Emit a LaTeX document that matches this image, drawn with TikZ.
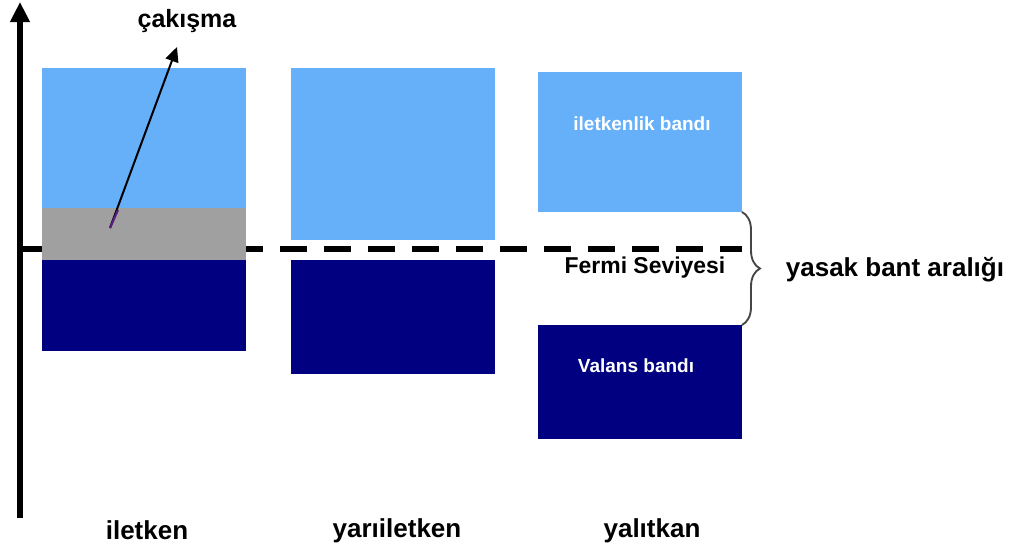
\documentclass[tikz,border=0pt]{standalone}
\usepackage{fontspec}
\setmainfont{Liberation Sans}
\usetikzlibrary{arrows.meta,fit,decorations.pathreplacing}
\definecolor{condband}{RGB}{102,176,250}
\definecolor{valband}{RGB}{0,0,128}
\definecolor{overlap}{RGB}{160,160,160}
\definecolor{bracecol}{RGB}{70,70,70}
\definecolor{tailcol}{RGB}{90,30,130}
\begin{document}
\begin{tikzpicture}[x=0.75pt,y=-0.75pt,
  band/.style={inner sep=0pt,outer sep=0pt,draw=none},
  lbl/.style={font=\bfseries\fontsize{19.5}{23}\selectfont,inner sep=1pt},
  inlbl/.style={font=\bfseries\fontsize{14.25}{17}\selectfont,text=white,inner sep=1pt},
  fermi/.style={line width=4.6pt,dash pattern=on 20.25pt off 12.75pt,dash phase=3pt}]
\useasboundingbox (0,0) rectangle (1018,553);

% Fermi level
\coordinate (fstart) at (20,249);
\coordinate (fend) at (742,249);
\draw[fermi] (fstart) -- (fend);

% energy axis
\coordinate (axbot) at (20,518);
\coordinate (axtop) at (20,2);
\draw[line width=4pt,-{Triangle[length=15pt,width=14pt]}] (axbot) -- (axtop);

% conductor
\node[band,fill=condband,fit={(42,68) (246,208)}] (c1) {};
\node[band,fill=overlap,fit={(42,208) (246,260)}] (o1) {};
\node[band,fill=valband,fit={(42,260) (246,351)}] (v1) {};

% semiconductor
\node[band,fill=condband,fit={(291,68) (495,240)}] (c2) {};
\node[band,fill=valband,fit={(291,260) (495,374)}] (v2) {};

% insulator
\node[band,fill=condband,fit={(538,72) (742,212)}] (c3) {};
\node[band,fill=valband,fit={(538,325) (742,439)}] (v3) {};

% labels
\node[lbl,font=\bfseries\fontsize{18.75}{22}\selectfont] (cak) at (187,21) {çakışma};
\node[lbl] (t1) at (147,530) {iletken};
\node[lbl] (t2) at (397,531) {yarıiletken};
\node[lbl] (t3) at (652,531) {yalıtkan};
\node[lbl] (gap) at (895,270) {yasak bant aralığı};
\node[lbl,font=\bfseries\fontsize{17.2}{20}\selectfont] (fl) at (645,268) {Fermi Seviyesi};
\node[inlbl] (cbl) at (642,124) {iletkenlik bandı};
\node[inlbl] (vbl) at (636,366) {Valans bandı};

% overlap pointer
\coordinate (ov) at (110,228);
\coordinate (ovmid) at (118,210);
\coordinate (ovtip) at (177,47);
\draw[line width=1.5pt,-{Triangle[length=11pt,width=10pt]}] (ov) -- (ovtip);
\draw[line width=1.6pt,tailcol] (ov) -- (ovmid);

% band gap brace
\draw[bracecol,line width=1.4pt,decorate,decoration={brace,amplitude=13.5pt}] (c3.south east) -- (v3.north east);
\end{tikzpicture}
\end{document}
